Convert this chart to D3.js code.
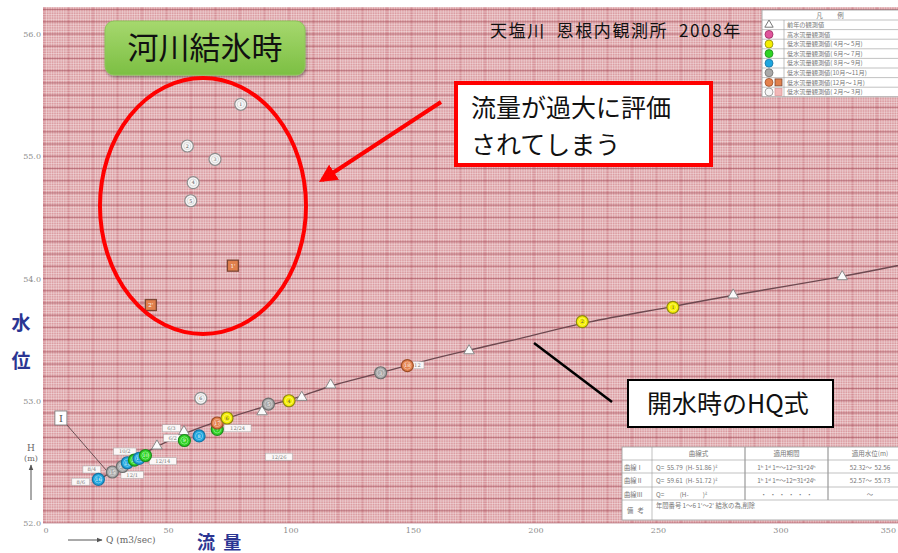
<!DOCTYPE html>
<html>
<head>
<meta charset="utf-8">
<script src="https://cdn.jsdelivr.net/npm/d3@7"></script>
<style>
  body { margin: 0; background: #fff; }
  svg { display: block; }
</style>
</head>
<body>
<svg id="chart" width="898" height="553"></svg>
<script>
"use strict";

// ---- values ----

// open-water HQ curve (traced)
const curveQ = [22.4, 31.8, 45.7, 57.1, 74.7, 91.8, 104.9, 117.1, 137.6, 153.1, 173.5, 199.2, 219.6, 256.3, 280.8, 325.7, 352];
const curveH = [52.352, 52.474, 52.622, 52.736, 52.859, 52.965, 53.031, 53.129, 53.227, 53.317, 53.415, 53.530, 53.640, 53.767, 53.865, 54.012, 54.12];

// previous year observations (triangles)
const prevQ = [46.1, 57.1, 89.0, 105.2, 117.0, 173.5, 281.3, 325.8];
const prevH = [52.630, 52.748, 52.910, 53.028, 53.129, 53.409, 53.865, 54.015];

// this year's observations
const obsGroup = ["aug", "oct", "oct", "aug", "jun", "aug", "jun", "jun", "aug", "jun", "dec", "apr", "oct", "apr", "oct", "dec", "apr", "apr",
                  "feb", "feb", "feb", "feb", "feb", "feb"];
const obsQ = [22.2, 27.9, 32.0, 34.0, 36.9, 38.8, 41.4, 57.3, 63.3, 70.7, 70.7, 74.7, 91.6, 100.0, 137.4, 148.3, 219.7, 256.7,
              80.3, 58.5, 69.8, 60.9, 59.9, 64.0];
const obsH = [52.357, 52.417, 52.462, 52.493, 52.515, 52.528, 52.552, 52.675, 52.712, 52.766, 52.818, 52.859, 52.973, 53.000, 53.229, 53.288, 53.647, 53.764,
              55.425, 55.084, 54.975, 54.784, 54.636, 53.020];
const obsNo = ["16", "15", "14", "13", "12", "11", "10", "9", "8", "7", "17", "6", "5", "4", "3", "18", "2", "1",
               "1", "2", "3", "4", "5", "6"];

// ice-period observations (squares)
const iceQ = [77.1, 43.6];
const iceH = [54.105, 53.783];
const iceNo = ["1'", "2'"];

// small date tags beside points
const tagQ = [15.0, 19.5, 33.0, 36.0, 48.5, 52.0, 52.5, 79.0, 95.9, 152.4];
const tagH = [52.338, 52.438, 52.585, 52.395, 52.505, 52.775, 52.695, 52.775, 52.542, 53.290];
const tagText = ["8/6", "8/4", "10/2", "12/1", "12/14", "6/3", "6/2", "12/24", "12/26", "12"];

// curve I label and its leader
const leaderQ = [6.9, 25.7];
const leaderH = [52.859, 52.425];

// axes
const xTicks = [0, 50, 100, 150, 200, 250, 300, 350];
const yTicks = [52, 53, 54, 55, 56];

// legend
const legendKeys = ["prev", "high", "apr", "jun", "aug", "oct", "dec", "feb"];
const legendText = ["前年の観測値", "高水流量観測値", "低水流量観測値( 4月～ 5月)", "低水流量観測値( 6月～ 7月)",
                    "低水流量観測値( 8月～ 9月)", "低水流量観測値(10月～11月)", "低水流量観測値(12月～ 1月)", "低水流量観測値( 2月～ 3月)"];

// rating table
const tableHead = ["", "曲線式", "適用期間", "適用水位(m)"];
const tableRows = [
  ["曲線Ⅰ", "Q=  55.79  (H- 51.86 )²", "1ʰ 1ᵈ 1ᵐ～12ᵐ31ᵈ24ʰ", "52.32～  52.56"],
  ["曲線Ⅱ", "Q=  59.61  (H- 51.72 )²", "1ʰ 1ᵈ 1ᵐ～12ᵐ31ᵈ24ʰ", "52.57～  55.73"],
  ["曲線Ⅲ", "Q=           (H-          )²", "・  ・  ・  ・  ・  ・", "～"]
];
const tableNote = "年間番号 1～6 1'～2' 結氷の為,削除";

// ---- styles ----
const fillOf = { prev: "#fafafa", high: "#e0559c", apr: "#f4ee00", jun: "#2fd424", aug: "#1ea6df",
                 oct: "#a9a9a9", dec: "#e4814c", feb: "#f6f6f6" };
const strokeOf = { prev: "#8a8a8a", high: "#9a2a60", apr: "#8f8a10", jun: "#1d8a1d", aug: "#1672a2",
                   oct: "#6e6e6e", dec: "#9c4e28", feb: "#8d8d8d" };
const jp = "'Noto Sans CJK JP', 'Noto Sans', sans-serif";
const serif = "'DejaVu Serif', 'Liberation Serif', serif";

const svg = d3.select("#chart");

const x = d3.scaleLinear().domain([0, 350]).range([44, 901.5]);
const y = d3.scaleLinear().domain([52, 56]).range([523, 34]);

const plot = { left: 43, right: 898, top: 7, bottom: 523 };

// ---- graph paper ----
const paper = svg.append("g");
paper.append("rect")
  .attr("x", plot.left).attr("y", plot.top)
  .attr("width", plot.right - plot.left).attr("height", plot.bottom - plot.top)
  .attr("fill", "#db9ca1");

const qLines = d3.range(0, 352).filter((i) => x(i) >= plot.left && x(i) <= plot.right);
const hLines = d3.range(0, 212).map((i) => ({ i: i, h: 52 + i * 0.02 })).filter((d) => y(d.h) >= plot.top);

paper.selectAll("line.vq").data(qLines).enter().append("line")
  .attr("x1", (d) => x(d)).attr("x2", (d) => x(d))
  .attr("y1", plot.top).attr("y2", plot.bottom)
  .attr("stroke", (d) => d % 10 === 0 ? "#b96a74" : "#fff")
  .attr("stroke-opacity", (d) => d % 10 === 0 ? 0.3 : 0.45)
  .attr("stroke-width", 0.8);

paper.selectAll("line.hh").data(hLines).enter().append("line")
  .attr("x1", plot.left).attr("x2", plot.right)
  .attr("y1", (d) => y(d.h)).attr("y2", (d) => y(d.h))
  .attr("stroke", (d) => d.i % 5 === 0 ? "#9c4a58" : "#fff")
  .attr("stroke-opacity", (d) => d.i % 5 === 0 ? 0.55 : 0.45)
  .attr("stroke-width", (d) => d.i % 5 === 0 ? 1 : 0.8);

// ---- axes labels ----
svg.append("g").selectAll("text").data(yTicks).enter().append("text")
  .attr("x", 41).attr("y", (d) => y(d) + 3)
  .attr("text-anchor", "end")
  .attr("font-family", serif).attr("font-size", 8).attr("fill", "#8c8c8c")
  .text((d) => d.toFixed(1));

svg.append("g").selectAll("text").data(xTicks).enter().append("text")
  .attr("x", (d) => Math.min(x(d) + 2, 896)).attr("y", 533)
  .attr("text-anchor", (d) => x(d) + 2 > 890 ? "end" : "middle")
  .attr("font-family", serif).attr("font-size", 8).attr("fill", "#8c8c8c")
  .text((d) => d);

svg.append("defs").html(
  '<marker id="ah" viewBox="0 0 10 10" refX="9" refY="5" markerWidth="6" markerHeight="6" orient="auto">' +
  '<path d="M0,1L10,5L0,9z" fill="#555"/></marker>' +
  '<marker id="ahr" viewBox="0 0 10 10" refX="8" refY="5" markerWidth="4.5" markerHeight="4.5" orient="auto">' +
  '<path d="M0,0L10,5L0,10z" fill="#ff0000"/></marker>' +
  '<linearGradient id="gg" x1="0" y1="0" x2="0" y2="1">' +
  '<stop offset="0" stop-color="#a6d86e"/><stop offset="1" stop-color="#7cbf43"/></linearGradient>' +
  '<filter id="sh" x="-10%" y="-10%" width="130%" height="140%"><feDropShadow dx="1" dy="2" stdDeviation="1.5" flood-opacity="0.35"/></filter>'
);

// H (m) arrow on the left
svg.append("text").attr("x", 31).attr("y", 451).attr("text-anchor", "middle")
  .attr("font-family", serif).attr("font-size", 9).attr("fill", "#666").text("H");
svg.append("text").attr("x", 31).attr("y", 461).attr("text-anchor", "middle")
  .attr("font-family", serif).attr("font-size", 8).attr("fill", "#666").text("(m)");
svg.append("line").attr("x1", 31).attr("x2", 31).attr("y1", 500).attr("y2", 465)
  .attr("stroke", "#555").attr("stroke-width", 1).attr("marker-end", "url(#ah)");

// Q (m3/sec) arrow at the bottom
svg.append("line").attr("x1", 68).attr("x2", 102).attr("y1", 540).attr("y2", 540)
  .attr("stroke", "#555").attr("stroke-width", 1).attr("marker-end", "url(#ah)");
svg.append("text").attr("x", 106).attr("y", 543)
  .attr("font-family", serif).attr("font-size", 9).attr("fill", "#666").text("Q  (m3/sec)");

// big axis titles
svg.append("text").attr("x", 21).attr("y", 330).attr("text-anchor", "middle")
  .attr("font-family", jp).attr("font-weight", "bold").attr("font-size", 19).attr("fill", "#2b3593").text("水");
svg.append("text").attr("x", 21).attr("y", 368).attr("text-anchor", "middle")
  .attr("font-family", jp).attr("font-weight", "bold").attr("font-size", 19).attr("fill", "#2b3593").text("位");
svg.append("text").attr("x", 197).attr("y", 549)
  .attr("font-family", jp).attr("font-weight", "bold").attr("font-size", 18).attr("fill", "#2b3593")
  .attr("xml:space", "preserve").text("流  量");

// ---- HQ curve ----
const curve = d3.line()
  .x((d) => x(d[0])).y((d) => y(d[1]))
  .curve(d3.curveBasis);

svg.append("path")
  .datum(curveQ.map((q, i) => [q, curveH[i]]))
  .attr("d", curve)
  .attr("fill", "none").attr("stroke", "#6e4950").attr("stroke-width", 1.4);

// curve I label with leader
svg.append("line")
  .attr("x1", x(leaderQ[0])).attr("y1", y(leaderH[0]))
  .attr("x2", x(leaderQ[1])).attr("y2", y(leaderH[1]))
  .attr("stroke", "#6a5054").attr("stroke-width", 1);
svg.append("rect")
  .attr("x", x(leaderQ[0]) - 6).attr("y", y(leaderH[0]) - 7).attr("width", 12).attr("height", 14)
  .attr("fill", "#fff").attr("stroke", "#777").attr("stroke-width", 0.8);
svg.append("text")
  .attr("x", x(leaderQ[0])).attr("y", y(leaderH[0]) + 4).attr("text-anchor", "middle")
  .attr("font-family", serif).attr("font-size", 10).attr("fill", "#555").text("Ⅰ");

// date tags
const tags = svg.append("g").selectAll("g").data(tagQ).enter().append("g")
  .attr("transform", (d, i) => `translate(${x(d)},${y(tagH[i])})`);
tags.append("rect")
  .attr("x", (d, i) => -(tagText[i].length * 2.3 + 2)).attr("y", -3.5)
  .attr("width", (d, i) => tagText[i].length * 4.6 + 4).attr("height", 7)
  .attr("fill", "#fbf7f7").attr("stroke", "#aaa").attr("stroke-width", 0.5);
tags.append("text")
  .attr("y", 2).attr("text-anchor", "middle")
  .attr("font-family", serif).attr("font-size", 5.2).attr("fill", "#777")
  .text((d, i) => tagText[i]);

// previous year triangles
svg.append("g").selectAll("path").data(prevQ).enter().append("path")
  .attr("transform", (d, i) => `translate(${x(d)},${y(prevH[i])})`)
  .attr("d", d3.symbol().type(d3.symbolTriangle).size(48))
  .attr("fill", fillOf.prev).attr("stroke", strokeOf.prev).attr("stroke-width", 1);

// circles
const obs = svg.append("g").selectAll("g").data(obsQ).enter().append("g")
  .attr("transform", (d, i) => `translate(${x(d)},${y(obsH[i])})`);
obs.append("circle")
  .attr("r", 6)
  .attr("fill", (d, i) => fillOf[obsGroup[i]])
  .attr("stroke", (d, i) => strokeOf[obsGroup[i]]).attr("stroke-width", 1.2);
obs.append("circle")
  .attr("r", 3.6).attr("fill", "none")
  .attr("stroke", (d, i) => obsGroup[i] === "feb" ? "#c8c8c8" : "rgba(255,255,255,0.6)").attr("stroke-width", 0.6);
obs.append("text")
  .attr("y", 1.8).attr("text-anchor", "middle")
  .attr("font-family", serif).attr("font-size", 4.8)
  .attr("fill", (d, i) => obsGroup[i] === "feb" || obsGroup[i] === "apr" ? "#555" : "#fff")
  .text((d, i) => obsNo[i]);

// ice period squares
const ice = svg.append("g").selectAll("g").data(iceQ).enter().append("g")
  .attr("transform", (d, i) => `translate(${x(d)},${y(iceH[i])})`);
ice.append("rect")
  .attr("x", -5.5).attr("y", -5.5).attr("width", 11).attr("height", 11)
  .attr("fill", "#e0804c").attr("stroke", "#7c4634").attr("stroke-width", 1.3);
ice.append("text")
  .attr("y", 2).attr("text-anchor", "middle")
  .attr("font-family", serif).attr("font-size", 5.5).attr("fill", "#fff")
  .text((d, i) => iceNo[i]);

// ---- legend ----
const lg = svg.append("g").attr("transform", "translate(762,10)");
const lgRowH = 9.6;
lg.append("rect").attr("width", 140).attr("height", 10 + legendKeys.length * lgRowH)
  .attr("fill", "#fff").attr("stroke", "#999").attr("stroke-width", 0.8);
lg.append("text").attr("x", 68).attr("y", 8).attr("text-anchor", "middle")
  .attr("font-family", jp).attr("font-size", 6.5).attr("fill", "#777")
  .attr("xml:space", "preserve").text("凡          例");
lg.append("line").attr("x1", 22).attr("x2", 22).attr("y1", 10).attr("y2", 10 + legendKeys.length * lgRowH)
  .attr("stroke", "#999").attr("stroke-width", 0.6);
const lgRow = lg.selectAll("g.row").data(legendKeys).enter().append("g")
  .attr("transform", (d, i) => `translate(0,${10 + i * lgRowH})`);
lgRow.append("line").attr("x1", 0).attr("x2", 140).attr("y1", 0).attr("y2", 0)
  .attr("stroke", "#999").attr("stroke-width", 0.6);
lgRow.filter((d) => d === "prev").append("path")
  .attr("transform", `translate(7,${lgRowH / 2})`)
  .attr("d", d3.symbol().type(d3.symbolTriangle).size(30))
  .attr("fill", "#fff").attr("stroke", "#777");
lgRow.filter((d) => d !== "prev").append("circle")
  .attr("cx", 7).attr("cy", lgRowH / 2).attr("r", 4)
  .attr("fill", (d) => fillOf[d]).attr("stroke", (d) => strokeOf[d]).attr("stroke-width", 0.8);
lgRow.filter((d) => d === "dec" || d === "feb").append("rect")
  .attr("x", 13).attr("y", lgRowH / 2 - 3.5).attr("width", 7).attr("height", 7)
  .attr("fill", (d) => d === "dec" ? "#e0804c" : "#f2b8b8")
  .attr("stroke", (d) => d === "dec" ? "#7c4634" : "#d99")
  .attr("stroke-width", 0.8);
lgRow.append("text")
  .attr("x", 25).attr("y", lgRowH / 2 + 2.3)
  .attr("font-family", jp).attr("font-size", 6.2).attr("fill", "#777")
  .attr("xml:space", "preserve")
  .text((d, i) => legendText[i]);

// ---- rating table ----
const tb = svg.append("g").attr("transform", "translate(622,447)");
const colX = [0, 30, 123, 206, 290];
const rowY = [0, 13, 26, 40, 53, 73];
tb.append("rect").attr("width", colX[4]).attr("height", rowY[5])
  .attr("fill", "#fff").attr("stroke", "#999").attr("stroke-width", 0.8);
tb.selectAll("line.r").data(rowY.slice(1, 5)).enter().append("line")
  .attr("x1", 0).attr("x2", colX[4]).attr("y1", (d) => d).attr("y2", (d) => d)
  .attr("stroke", "#999").attr("stroke-width", 0.6);
tb.selectAll("line.c").data(colX.slice(1, 4)).enter().append("line")
  .attr("x1", (d) => d).attr("x2", (d) => d).attr("y1", 0)
  .attr("y2", (d, i) => i === 0 ? rowY[5] : rowY[4])
  .attr("stroke", "#999").attr("stroke-width", (d, i) => i === 0 ? 0.6 : 1.2);
tb.selectAll("text.h").data(tableHead).enter().append("text")
  .attr("x", (d, i) => (colX[i] + colX[i + 1]) / 2).attr("y", 9)
  .attr("text-anchor", "middle")
  .attr("font-family", jp).attr("font-size", 6.5).attr("fill", "#777")
  .text((d) => d);
tableRows.forEach((row, r) => {
  tb.selectAll(null).data(row).enter().append("text")
    .attr("x", (d, i) => i === 0 ? 2 : i === 1 ? colX[1] + 4 : (colX[i] + colX[i + 1]) / 2)
    .attr("y", rowY[r + 1] + 9.5)
    .attr("text-anchor", (d, i) => i < 2 ? "start" : "middle")
    .attr("font-family", jp).attr("font-size", 6.3).attr("fill", "#777")
    .attr("xml:space", "preserve")
    .text((d) => d);
});
tb.append("text").attr("x", 5).attr("y", 66)
  .attr("font-family", jp).attr("font-size", 6.3).attr("fill", "#777")
  .attr("xml:space", "preserve").text("備   考");
tb.append("text").attr("x", colX[1] + 4).attr("y", 61)
  .attr("font-family", jp).attr("font-size", 6.3).attr("fill", "#777")
  .text(tableNote);

// ---- title ----
svg.append("text").attr("x", 490).attr("y", 37)
  .attr("font-family", jp).attr("font-size", 17).attr("letter-spacing", 1.6).attr("fill", "#111")
  .attr("xml:space", "preserve").text("天塩川  恩根内観測所  2008年");

// ---- annotations ----
// green badge
svg.append("rect")
  .attr("x", 105).attr("y", 21).attr("width", 200).attr("height", 54).attr("rx", 9)
  .attr("fill", "url(#gg)").attr("stroke", "#8cc65a").attr("stroke-width", 1)
  .attr("filter", "url(#sh)");
svg.append("text").attr("x", 205).attr("y", 59).attr("text-anchor", "middle")
  .attr("font-family", jp).attr("font-size", 31).attr("fill", "#111").text("河川結氷時");

// red ellipse around the ice points
svg.append("ellipse")
  .attr("cx", 203).attr("cy", 206).attr("rx", 103).attr("ry", 128)
  .attr("fill", "none").attr("stroke", "#ff0000").attr("stroke-width", 4);

// red arrow
svg.append("line")
  .attr("x1", 441).attr("y1", 102).attr("x2", 322).attr("y2", 180)
  .attr("stroke", "#ff0000").attr("stroke-width", 4).attr("marker-end", "url(#ahr)");

// red callout
svg.append("rect")
  .attr("x", 456).attr("y", 83).attr("width", 255).attr("height", 82)
  .attr("fill", "#fff").attr("stroke", "#ff0000").attr("stroke-width", 4);
svg.append("text").attr("x", 471).attr("y", 117)
  .attr("font-family", jp).attr("font-size", 25).attr("fill", "#111").text("流量が過大に評価");
svg.append("text").attr("x", 471).attr("y", 154)
  .attr("font-family", jp).attr("font-size", 25).attr("fill", "#111").text("されてしまう");

// open-water HQ callout
svg.append("line")
  .attr("x1", 612).attr("y1", 402).attr("x2", 534).attr("y2", 343)
  .attr("stroke", "#000").attr("stroke-width", 2.5);
svg.append("rect")
  .attr("x", 628).attr("y", 380).attr("width", 205).attr("height", 47)
  .attr("fill", "#fff").attr("stroke", "#000").attr("stroke-width", 2);
svg.append("text").attr("x", 647).attr("y", 413)
  .attr("font-family", jp).attr("font-size", 25).attr("fill", "#111").text("開水時のHQ式");
</script>
</body>
</html>
